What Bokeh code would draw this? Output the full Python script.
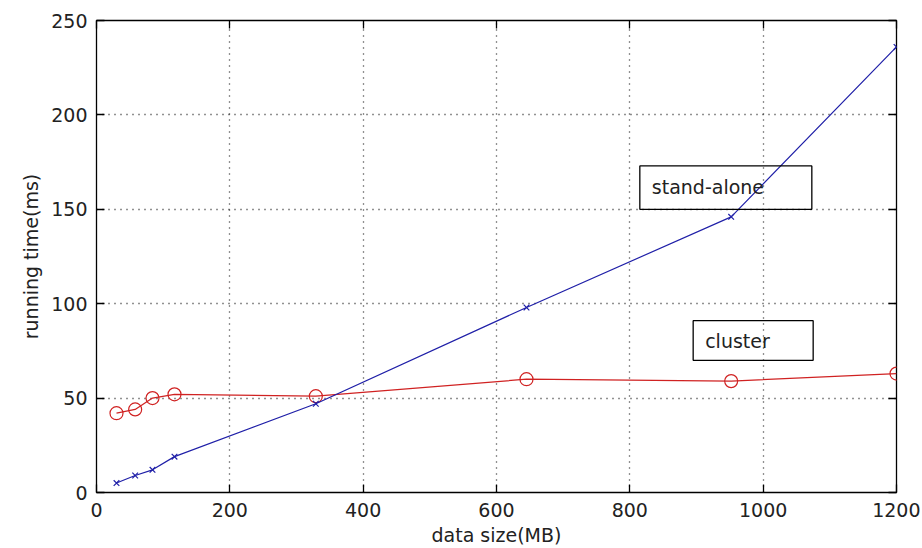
from bokeh.plotting import figure
from bokeh.models import Range1d, LinearAxis, FixedTicker, ColumnDataSource
from bokeh.core.properties import value
from bokeh.embed import file_html
from bokeh.resources import INLINE

data_size = [30, 58, 84, 117, 329, 645, 952, 1200]
standalone = [5, 9, 12, 19, 47, 98, 146, 236]
cluster = [42, 44, 50, 52, 51, 60, 59, 63]
x_ticks = [0, 200, 400, 600, 800, 1000, 1200]
y_ticks = [0, 50, 100, 150, 200, 250]
labels = ["stand-alone", "cluster"]

FONT = "DejaVu Sans"

p = figure(width=920, height=548, output_backend="svg", toolbar_location=None,
           x_range=Range1d(0, 1200), y_range=Range1d(0, 250),
           min_border_left=96, min_border_right=24, min_border_top=20, min_border_bottom=56)
p.outline_line_color = "black"
p.outline_line_width = 1.3
p.background_fill_color = "white"
p.border_fill_color = "white"

for ax in [p.xaxis[0], p.yaxis[0]]:
    ax.axis_line_color = None
    ax.major_tick_in = 8
    ax.major_tick_out = 0
    ax.minor_tick_line_color = None
    ax.major_tick_line_color = "black"
    ax.major_tick_line_width = 1.3
    ax.major_label_text_font = FONT
    ax.major_label_text_font_size = "19px"
    ax.major_label_text_color = "#222222"
    ax.axis_label_text_font = FONT
    ax.axis_label_text_font_style = "normal"
    ax.axis_label_text_color = "#222222"
p.xaxis.ticker = FixedTicker(ticks=x_ticks)
p.yaxis.ticker = FixedTicker(ticks=y_ticks)
p.xaxis.axis_label = "data size(MB)"
p.xaxis.axis_label_text_font_size = "19px"
p.xaxis.axis_label_standoff = 4
p.xaxis.major_label_standoff = 10
p.yaxis.axis_label = "running time(ms)"
p.yaxis.axis_label_text_font_size = "19px"
p.yaxis.axis_label_standoff = 6
p.yaxis.major_label_standoff = 9

for loc, t in [("above", x_ticks), ("right", y_ticks)]:
    ax = LinearAxis(ticker=FixedTicker(ticks=t), major_label_text_font_size="0px",
                    axis_line_color=None, major_tick_in=8, major_tick_out=0,
                    minor_tick_line_color=None, major_tick_line_color="black",
                    major_tick_line_width=1.3)
    ax.major_label_overrides = {v: "" for v in t}
    p.add_layout(ax, loc)

p.grid.grid_line_color = "#222222"
p.grid.grid_line_dash = "1 5"
p.grid.grid_line_width = 1.3
p.xgrid.ticker = FixedTicker(ticks=x_ticks)
p.ygrid.ticker = FixedTicker(ticks=y_ticks)

src = ColumnDataSource(dict(x=data_size, s=standalone, c=cluster))
p.line("x", "c", source=src, line_color="#d02222", line_width=1.2)
p.scatter("x", "c", source=src, marker="circle", size=13, fill_color=None,
          line_color="#d02222", line_width=1.2)
p.line("x", "s", source=src, line_color="#2020a8", line_width=1.2)
p.scatter("x", "s", source=src, marker="x", size=8, line_color="#2020a8", line_width=1.2)

# annotation boxes (data coords)
p.quad(left=[815, 895], right=[1073, 1075], top=[173, 91], bottom=[150, 70],
       fill_color=None, line_color="black", line_width=1.3)
p.text(x=[833, 913], y=[162, 80.5], text=labels, text_font=value(FONT),
       text_font_size="19px", text_baseline="middle", text_color="#222222")

open("out.html", "w").write(file_html(p, INLINE))
